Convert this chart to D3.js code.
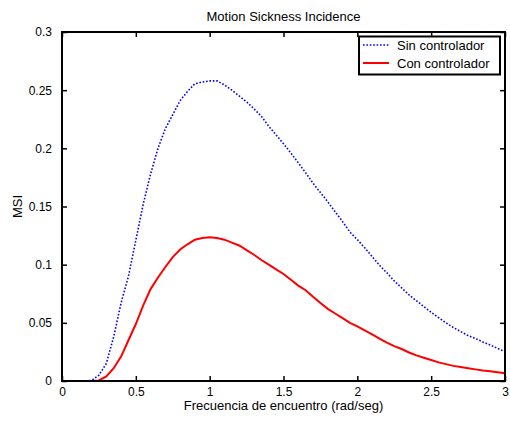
<!DOCTYPE html>
<html>
<head>
<meta charset="utf-8">
<script src="https://cdn.jsdelivr.net/npm/d3@7"></script>
<style>
  body { margin: 0; background: #fff; }
  text { font-family: "Liberation Sans", Arial, sans-serif; }
</style>
</head>
<body>
<div id="container"></div>
<script>
// frecuencia de encuentro (rad/seg)
const freq = [0, 0.05, 0.1, 0.15, 0.2, 0.25, 0.3, 0.35, 0.4, 0.45, 0.5, 0.55, 0.6, 0.65, 0.7, 0.75,
   0.8, 0.85, 0.9, 0.95, 1.0, 1.05, 1.1, 1.15, 1.2, 1.25, 1.3, 1.35, 1.4, 1.45, 1.5, 1.55, 1.6,
   1.65, 1.7, 1.75, 1.8, 1.85, 1.9, 1.95, 2.0, 2.05, 2.1, 2.15, 2.2, 2.25, 2.3, 2.35, 2.4, 2.45,
   2.5, 2.55, 2.6, 2.65, 2.7, 2.75, 2.8, 2.85, 2.9, 2.95, 3.0];

// MSI sin controlador
const msiSin = [0, 0, 0, 0, 0.0005, 0.005, 0.015, 0.038, 0.067, 0.09, 0.121, 0.152, 0.178, 0.2,
   0.217, 0.229, 0.241, 0.249, 0.2555, 0.257, 0.258, 0.258, 0.2545, 0.25, 0.245, 0.24, 0.234,
   0.2275, 0.219, 0.2115, 0.204, 0.196, 0.1875, 0.179, 0.17, 0.162, 0.154, 0.1455, 0.137, 0.128,
   0.1215, 0.1145, 0.107, 0.0995, 0.093, 0.086, 0.08, 0.074, 0.069, 0.064, 0.059, 0.0545, 0.05,
   0.046, 0.0425, 0.039, 0.0365, 0.0335, 0.031, 0.028, 0.0252];

// MSI con controlador
const msiCon = [0, 0, 0, 0, 0, 0.0005, 0.004, 0.011, 0.021, 0.035, 0.049, 0.065, 0.079, 0.089,
   0.098, 0.1065, 0.113, 0.1175, 0.1215, 0.123, 0.1235, 0.123, 0.1215, 0.119, 0.1165, 0.1125,
   0.1085, 0.104, 0.1, 0.096, 0.092, 0.087, 0.082, 0.078, 0.0725, 0.067, 0.062, 0.058, 0.054,
   0.05, 0.047, 0.0435, 0.04, 0.0365, 0.033, 0.03, 0.0275, 0.0245, 0.022, 0.02, 0.018, 0.016,
   0.0145, 0.013, 0.012, 0.011, 0.01, 0.009, 0.0083, 0.0075, 0.0066];

const xTicks = [0, 0.5, 1, 1.5, 2, 2.5, 3];
const yTicks = [0, 0.05, 0.1, 0.15, 0.2, 0.25, 0.3];
const seriesNames = ['Sin controlador', 'Con controlador'];

const w = 510;
const h = 421;
const mLeft = 62, mRight = 505, mTop = 32, mBottom = 381;

const svg = d3.select('#container')
   .append('svg')
   .attr('width', w)
   .attr('height', h);

const x = d3.scaleLinear().domain([0, 3]).range([mLeft, mRight]);
const y = d3.scaleLinear().domain([0, 0.3]).range([mBottom, mTop]);
const fmt = d => String(+d.toFixed(2));

function styleAxis(g) {
   g.selectAll('.domain').remove();
   g.selectAll('line').attr('stroke', '#000').attr('stroke-width', 1.5);
   g.selectAll('text').attr('fill', '#000').style('font-size', '12px');
}

svg.append('g')
   .attr('transform', 'translate(0,' + mBottom + ')')
   .call(d3.axisBottom(x).tickValues(xTicks).tickFormat(fmt).tickSizeInner(-5).tickSizeOuter(0).tickPadding(6.5))
   .call(styleAxis);
svg.append('g')
   .attr('transform', 'translate(0,' + mTop + ')')
   .call(d3.axisTop(x).tickValues(xTicks).tickFormat('').tickSizeInner(-5).tickSizeOuter(0))
   .call(styleAxis);
svg.append('g')
   .attr('transform', 'translate(' + mLeft + ',0)')
   .call(d3.axisLeft(y).tickValues(yTicks).tickFormat(fmt).tickSizeInner(-5).tickSizeOuter(0).tickPadding(10))
   .call(styleAxis);
svg.append('g')
   .attr('transform', 'translate(' + mRight + ',0)')
   .call(d3.axisRight(y).tickValues(yTicks).tickFormat('').tickSizeInner(-5).tickSizeOuter(0))
   .call(styleAxis);

// curves
const line = d3.line()
   .x((d, i) => x(freq[i]))
   .y(d => y(d));

svg.append('path')
   .datum(msiSin)
   .attr('d', line)
   .attr('fill', 'none')
   .attr('stroke', '#0000ff')
   .attr('stroke-width', 1.6)
   .attr('stroke-dasharray', '1.6,1.8');

svg.append('path')
   .datum(msiCon)
   .attr('d', line)
   .attr('fill', 'none')
   .attr('stroke', '#ff0000')
   .attr('stroke-width', 2);

// box
svg.append('rect')
   .attr('x', mLeft)
   .attr('y', mTop)
   .attr('width', mRight - mLeft)
   .attr('height', mBottom - mTop)
   .attr('fill', 'none')
   .attr('stroke', '#000')
   .attr('stroke-width', 2);

// titles
svg.append('text')
   .attr('x', (mLeft + mRight) / 2)
   .attr('y', 21)
   .attr('text-anchor', 'middle')
   .style('font-size', '13px')
   .text('Motion Sickness Incidence');

svg.append('text')
   .attr('x', (mLeft + mRight) / 2)
   .attr('y', 410)
   .attr('text-anchor', 'middle')
   .style('font-size', '13px')
   .text('Frecuencia de encuentro (rad/seg)');

svg.append('text')
   .attr('transform', 'translate(21.5,' + (mTop + mBottom) / 2 + ') rotate(-90)')
   .attr('text-anchor', 'middle')
   .style('font-size', '13px')
   .text('MSI');

// legend
const legend = svg.append('g');
legend.append('rect')
   .attr('x', 359)
   .attr('y', 36.5)
   .attr('width', 141)
   .attr('height', 38)
   .attr('fill', '#fff')
   .attr('stroke', '#000')
   .attr('stroke-width', 2);

const legendStyles = [
   { color: '#0000ff', dash: '1.6,1.8', width: 1.6 },
   { color: '#ff0000', dash: null, width: 2 }
];

seriesNames.forEach((name, i) => {
   const ly = 45 + i * 18;
   legend.append('line')
      .attr('x1', 363)
      .attr('x2', 389)
      .attr('y1', ly)
      .attr('y2', ly)
      .attr('stroke', legendStyles[i].color)
      .attr('stroke-width', legendStyles[i].width)
      .attr('stroke-dasharray', legendStyles[i].dash);
   legend.append('text')
      .attr('x', 397)
      .attr('y', ly + 4.5)
      .style('font-size', '13px')
      .text(name);
});
</script>
</body>
</html>
